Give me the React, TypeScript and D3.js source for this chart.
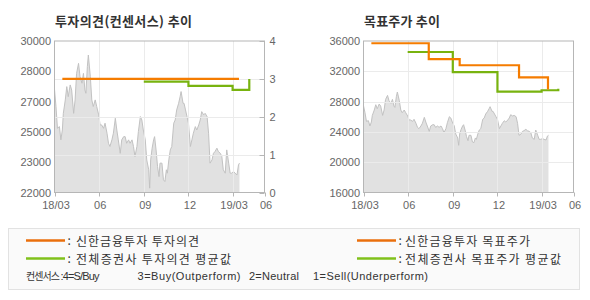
import React from "react";
import * as d3 from "d3";

// ---------- DATA ----------
const priceDates = [
  "2018-03-03","2018-03-06","2018-03-09","2018-03-13","2018-03-16","2018-03-19","2018-03-21","2018-03-25","2018-03-28","2018-03-31",
  "2018-04-04","2018-04-07","2018-04-11","2018-04-14","2018-04-17","2018-04-21","2018-04-24","2018-04-28","2018-05-01","2018-05-04",
  "2018-05-06","2018-05-09","2018-05-11","2018-05-15","2018-05-18","2018-05-21","2018-05-25","2018-05-28","2018-06-01","2018-06-04",
  "2018-06-07","2018-06-11","2018-06-14","2018-06-18","2018-06-21","2018-06-24","2018-06-28","2018-07-01","2018-07-05","2018-07-08",
  "2018-07-11","2018-07-15","2018-07-18","2018-07-22","2018-07-25","2018-07-28","2018-08-01","2018-08-04","2018-08-08","2018-08-11",
  "2018-08-14","2018-08-18","2018-08-21","2018-08-25","2018-08-28","2018-08-31","2018-09-04","2018-09-07","2018-09-11","2018-09-13",
  "2018-09-15","2018-09-18","2018-09-21","2018-09-23","2018-09-26","2018-09-29","2018-10-02","2018-10-04","2018-10-08","2018-10-11",
  "2018-10-14","2018-10-17","2018-10-19","2018-10-22","2018-10-25","2018-10-28","2018-11-01","2018-11-04","2018-11-07","2018-11-11",
  "2018-11-14","2018-11-16","2018-11-20","2018-11-22","2018-11-25","2018-11-28","2018-12-01","2018-12-05","2018-12-08","2018-12-11",
  "2018-12-15","2018-12-18","2018-12-22","2018-12-25","2018-12-28","2019-01-01","2019-01-04","2019-01-08","2019-01-11","2019-01-14",
  "2019-01-18","2019-01-21","2019-01-24","2019-01-28","2019-01-31","2019-02-04","2019-02-07","2019-02-10","2019-02-14","2019-02-17",
  "2019-02-21","2019-02-24","2019-02-27","2019-03-03","2019-03-06","2019-03-10","2019-03-13","2019-03-15"
];
const priceValues = [
  27450,26540,25390,25480,24780,25300,26180,26890,27590,27060,
  27680,27410,26180,26890,28290,28820,28120,27770,28290,27410,
  27240,28650,29260,28120,26890,26540,26890,26540,26100,25570,
  25570,25390,25660,25130,24600,24430,24780,25130,25920,25300,
  24780,24070,24780,24950,24950,24600,24780,24600,24780,24430,
  23900,24430,25220,26010,25830,25300,24780,23720,23200,22230,
  23720,24340,24780,24950,24250,23370,22840,23550,23550,22670,
  22580,23200,23020,23720,24250,24430,25660,25830,26360,26710,
  27060,27330,26710,26710,26360,26010,25660,24430,24780,25130,
  25480,25300,25570,25830,26270,26100,26180,26010,25130,23550,
  23720,24070,24160,24340,24160,24070,23900,23200,23020,24250,
  23550,23020,23020,23110,23020,22930,23460,23550
];

const opinionDates = ["2018-03-19", "2019-03-14"];
const opinionValues = [3, 3];
const avgOpinionDates = ["2018-09-01", "2018-12-01", "2019-03-01", "2019-04-04"];
const avgOpinionValues = [2.93, 2.815, 2.71, 3.0];

const targetDates = ["2018-03-19", "2018-07-14", "2018-09-15", "2019-01-14", "2019-03-14"];
const targetValues = [35700, 33600, 32800, 31200, 29600];
const avgTargetDates = ["2018-06-01", "2018-09-01", "2018-12-01", "2019-03-01", "2019-04-04"];
const avgTargetValues = [34550, 31900, 29320, 29500, 29710];

const domainDates = ["2018-03-03", "2019-05-05"];
const xTickDates = ["2018-03-03", "2018-06-01", "2018-09-01", "2018-12-01", "2019-03-01", "2019-05-05"];
const xTickLabels = ["18/03", "06", "09", "12", "19/03", "06"];

const leftPriceDomain = [22000, 30000];
const leftTickValues = [30000, 28400, 26800, 25200, 23600, 22000];
const leftTickLabels = ["30000", "28000", "27000", "25000", "23000", "22000"];
const opinionTicks = [0, 1, 2, 3, 4];
const targetDomain = [16000, 36000];
const targetTicks = [16000, 20000, 24000, 28000, 32000, 36000];

const titles = ["투자의견(컨센서스) 추이", "목표주가 추이"];
const legendLeft = ["신한금융투자 투자의견", "전체증권사 투자의견 평균값"];
const legendRight = ["신한금융투자 목표주가", "전체증권사 목표주가 평균값"];
const consensusParts = ["컨센서스", ":4=S/Buy", "3=Buy(Outperform)", "2=Neutral", "1=Sell(Underperform)"];

// ---------- STYLE ----------
const ORANGE = "#f57c00";
const GREEN = "#78b30f";
const ORANGE_LEG = "#ea6f0c";
const GREEN_LEG = "#80c11b";
const KR = "'Noto Sans CJK KR', 'Noto Sans', sans-serif";
const LAT = "'Liberation Sans', Arial, sans-serif";

const parse = d3.timeParse("%Y-%m-%d");

type Pt = { d: Date; v: number };
const zip = (ds: string[], vs: number[]): Pt[] =>
  ds.slice(0, Math.min(ds.length, vs.length)).map((s, i) => ({ d: parse(s) as Date, v: vs[i] }));

const price = zip(priceDates, priceValues);
const opinion = zip(opinionDates, opinionValues);
const avgOpinion = zip(avgOpinionDates, avgOpinionValues);
const target = zip(targetDates, targetValues);
const avgTarget = zip(avgTargetDates, avgTargetValues);

const Y_TOP = 41;
const Y_BOT = 192.5;
const PW = 210;

function Panel(props: {
  x0: number;
  title: string;
  titleWidth: number;
  priceDomain: number[];
  gridY: number[];
  lineScaleDomain: number[];
  lines: { data: Pt[]; color: string }[];
  leftTicks: { v: number; label: string }[];
  rightTicks?: { v: number; label: string }[];
}) {
  const { x0, title } = props;
  const x1 = x0 + PW;
  const x = d3.scaleTime().domain(domainDates.map((s) => parse(s) as Date)).range([x0, x1]);
  const yP = d3.scaleLinear().domain(props.priceDomain).range([Y_BOT, Y_TOP]);
  const yL = d3.scaleLinear().domain(props.lineScaleDomain).range([Y_BOT, Y_TOP]);
  const area = d3.area<Pt>().x((p) => x(p.d)).y0(Y_BOT).y1((p) => yP(p.v));
  const top = d3.line<Pt>().x((p) => x(p.d)).y((p) => yP(p.v));
  const step = d3.line<Pt>().x((p) => x(p.d)).y((p) => yL(p.v)).curve(d3.curveStepAfter);
  const tickDs = xTickDates.map((s) => parse(s) as Date);

  return (
    <g>
      <text x={x0 + 0.5} y={25.5} fontFamily={KR} fontWeight="bold" fontSize={13} fill="#333"
        textLength={props.titleWidth} lengthAdjust="spacing">
        {title}
      </text>
      <path d={area(price) || ""} fill="#e1e1e1" />
      <path d={top(price) || ""} fill="none" stroke="#c2c2c2" strokeWidth={1} />
      {tickDs.slice(1, -1).map((d, i) => (
        <line key={"gx" + i} x1={Math.round(x(d)) + 0.5} x2={Math.round(x(d)) + 0.5} y1={Y_TOP} y2={Y_BOT} stroke="#ebebeb" />
      ))}
      {props.gridY.map((v, i) => (
        <line key={"gy" + i} x1={x0} x2={x1} y1={Math.round(yL(v)) + 0.5} y2={Math.round(yL(v)) + 0.5} stroke="#ebebeb" />
      ))}
      <rect x={x0} y={Y_TOP} width={PW} height={Y_BOT - Y_TOP} fill="none" stroke="#b6b6b6" />
      {tickDs.map((d, i) => (
        <line key={"tx" + i} x1={Math.round(x(d)) + 0.5} x2={Math.round(x(d)) + 0.5} y1={Y_BOT} y2={Y_BOT + 4} stroke="#b6b6b6" />
      ))}
      {tickDs.map((d, i) => (
        <text key={"lx" + i} x={x(d) + 1.5} y={209} textAnchor="middle" fontFamily={LAT} fontSize={11} fill="#666">
          {xTickLabels[i]}
        </text>
      ))}
      {props.leftTicks.map((t, i) => (
        <text key={"ly" + i} x={x0 - 3.5} y={yP(t.v) + 4} textAnchor="end" fontFamily={LAT} fontSize={11} fill="#666">
          {t.label}
        </text>
      ))}
      {props.rightTicks &&
        props.rightTicks.map((t, i) => (
          <g key={"ry" + i}>
            <line x1={x1 - 5} x2={x1} y1={Math.round(yL(t.v)) + 0.5} y2={Math.round(yL(t.v)) + 0.5} stroke="#b6b6b6" />
            <text x={x1 + 5} y={yL(t.v) + 4} fontFamily={LAT} fontSize={11} fill="#666">
              {t.label}
            </text>
          </g>
        ))}
      {props.lines.map((l, i) => (
        <path key={"ln" + i} d={step(l.data) || ""} fill="none" stroke={l.color} strokeWidth={2.2} />
      ))}
    </g>
  );
}

export default function App() {
  const legW = [[123, 155], [125, 156]];
  return (
    <svg width={590} height={300} style={{ position: "absolute", left: 0, top: 0, background: "#fff" }}>
      <Panel
        x0={54.5}
        title={titles[0]}
        titleWidth={137}
        priceDomain={leftPriceDomain}
        lineScaleDomain={[opinionTicks[0], opinionTicks[opinionTicks.length - 1]]}
        gridY={opinionTicks.slice(1, -1)}
        lines={[
          { data: avgOpinion, color: GREEN },
          { data: opinion, color: ORANGE },
        ]}
        leftTicks={leftTickValues.map((v, i) => ({ v, label: leftTickLabels[i] }))}
        rightTicks={opinionTicks.map((v) => ({ v, label: String(v) }))}
      />
      <Panel
        x0={363.5}
        title={titles[1]}
        titleWidth={76}
        priceDomain={targetDomain}
        lineScaleDomain={targetDomain}
        gridY={targetTicks.slice(1, -1)}
        lines={[
          { data: avgTarget, color: GREEN },
          { data: target, color: ORANGE },
        ]}
        leftTicks={targetTicks.map((v) => ({ v, label: String(v) }))}
      />
      {/* legend */}
      <rect x={8.5} y={228.5} width={571} height={61} fill="#fafafa" stroke="#e2e2e2" />
      {[0, 1].map((r) => (
        <g key={"lg" + r}>
          <line x1={26} x2={65} y1={240.5 + r * 18} y2={240.5 + r * 18} stroke={r === 0 ? ORANGE_LEG : GREEN_LEG} strokeWidth={2.6} />
          <text x={67.5} y={245 + r * 18} fontFamily={KR} fontSize={12} fill="#333">:</text>
          <text x={76} y={245.5 + r * 18} fontFamily={KR} fontSize={12} fill="#333"
            textLength={legW[0][r]} lengthAdjust="spacing">{legendLeft[r]}</text>
          <line x1={357} x2={396} y1={240.5 + r * 18} y2={240.5 + r * 18} stroke={r === 0 ? ORANGE_LEG : GREEN_LEG} strokeWidth={2.6} />
          <text x={398.5} y={245 + r * 18} fontFamily={KR} fontSize={12} fill="#333">:</text>
          <text x={405} y={245.5 + r * 18} fontFamily={KR} fontSize={12} fill="#333"
            textLength={legW[1][r]} lengthAdjust="spacing">{legendRight[r]}</text>
        </g>
      ))}
      <text x={26} y={280} fontFamily={KR} fontSize={10} fill="#333" textLength={34} lengthAdjust="spacing">
        {consensusParts[0]}
      </text>
      <text x={60.5} y={280} fontFamily={LAT} fontSize={11} fill="#333" textLength={39} lengthAdjust="spacing">
        {consensusParts[1]}
      </text>
      <text x={137.5} y={280} fontFamily={LAT} fontSize={11} fill="#333" textLength={103} lengthAdjust="spacing">
        {consensusParts[2]}
      </text>
      <text x={249} y={280} fontFamily={LAT} fontSize={11} fill="#333" textLength={50} lengthAdjust="spacing">
        {consensusParts[3]}
      </text>
      <text x={313} y={280} fontFamily={LAT} fontSize={11} fill="#333" textLength={115} lengthAdjust="spacing">
        {consensusParts[4]}
      </text>
    </svg>
  );
}
